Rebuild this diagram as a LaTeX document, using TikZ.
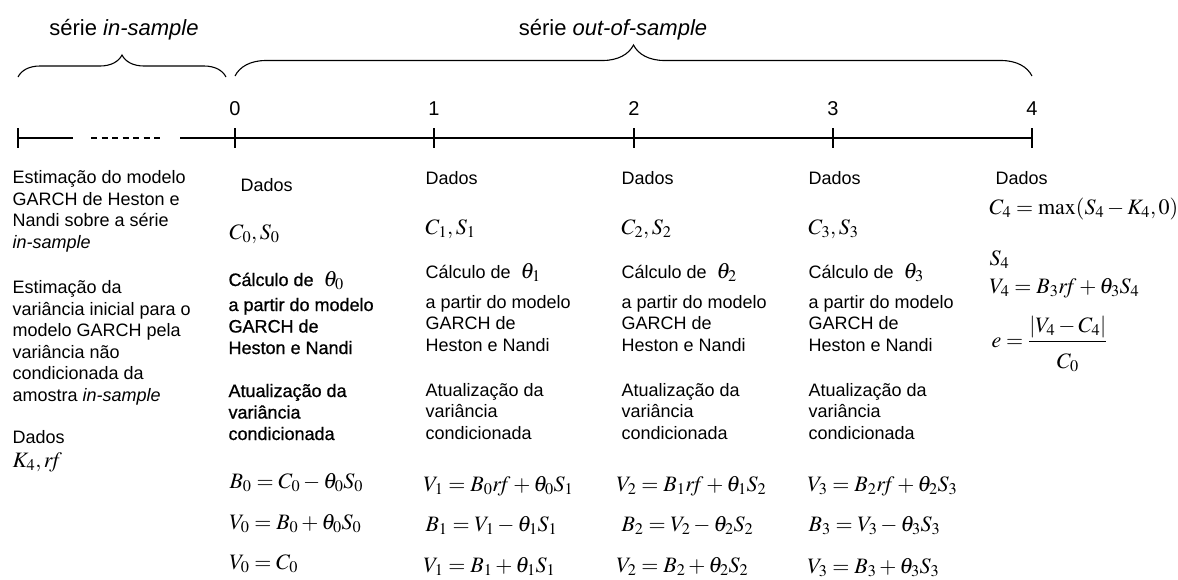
\documentclass[tikz,border=0pt]{standalone}
\usepackage{mathptmx}
\usepackage[no-math]{fontspec}
\setmainfont{Liberation Sans}
\newfontfamily\heavysf[FakeBold=0.8]{Liberation Sans}
\usetikzlibrary{decorations.pathreplacing}
\newcommand{\eqf}{\fontsize{22}{26}\selectfont}
\newcommand{\rfree}{r\mkern-3mu f}
\tikzset{
  txt/.style={anchor=base west,inner sep=0pt,align=left,font=\fontsize{18}{21.5}\selectfont},
  txtb/.style={txt,font=\fontsize{18}{21.5}\heavysf},
  eqn/.style={anchor=base west,inner sep=0pt,font=\eqf},
  num/.style={anchor=base,inner sep=0pt,font=\fontsize{20}{24}\selectfont},
  tit/.style={anchor=base,inner sep=0pt,font=\fontsize{22}{26}\selectfont},
  brc/.style={decorate,decoration={brace,amplitude=#1}},
}
\begin{document}
\begin{tikzpicture}[x=1pt,y=-1pt,line width=1.1pt]
  \useasboundingbox (0,0) rectangle (1178,579);
  % eixo do tempo
  \coordinate (ini) at (18,138);
  \coordinate (a1) at (73,138);
  \coordinate (d1) at (91,138);
  \coordinate (d2) at (163,138);
  \coordinate (a2) at (180,138);
  \coordinate (t0) at (235,138);
  \coordinate (t1) at (434,138);
  \coordinate (t2) at (634,138);
  \coordinate (t3) at (833,138);
  \coordinate (t4) at (1032,138);
  \draw (ini)--(a1);
  \draw[dash pattern=on 6pt off 4.5pt] (d1)--(d2);
  \draw (a2)--(t4);
  \foreach \t in {ini,t0,t1,t2,t3,t4} \draw (\t) ++(0,-10)--++(0,20);
  \node[num] (n0) at (235,115) {0};
  \node[num] (n1) at (434,115) {1};
  \node[num] (n2) at (634,115) {2};
  \node[num] (n3) at (833,115) {3};
  \node[num] (n4) at (1032,115) {4};
  % chaves
  \coordinate (b1) at (18,77);
  \coordinate (b2) at (226,77);
  \coordinate (b3) at (235,76);
  \coordinate (b4) at (1032,76);
  \draw[brc=22] (b1)--(b2);
  \draw[brc=31] (b3)--(b4);
  \node[tit] (ins) at (124,35) {série \textit{in-sample}};
  \node[tit] (outs) at (613,35) {série \textit{out-of-sample}};
  % coluna in-sample (y = base da ultima linha)
  \node[txt] (est1) at (12,248) {Estimação do modelo\\GARCH de Heston e\\Nandi sobre a série\\\textit{in-sample}};
  \node[txt] (est2) at (12,401) {Estimação da\\variância inicial para o\\modelo GARCH pela\\variância não\\condicionada da\\amostra \textit{in-sample}};
  \node[txt] (dl) at (12,443) {Dados};
  \node[eqn] (kl) at (12,467) {$K_4, \rfree$};
  % t = 0
  \node[txt] (d0) at (240,191) {Dados};
  \node[eqn] (cs0) at (229,239) {$C_0, S_0$};
  \node[txtb] (calc0) at (228,286) {Cálculo de \ {\eqf$\theta_0$}};
  \node[txtb] (gar0) at (228,354) {a partir do modelo\\GARCH de\\Heston e Nandi};
  \node[txtb] (atu0) at (228,440) {Atualização da\\variância\\condicionada};
  \node[eqn] (e0a) at (229,488) {$B_0 = C_0 - \theta_0 S_0$};
  \node[eqn] (e0b) at (229,529) {$V_0 = B_0 + \theta_0 S_0$};
  \node[eqn] (e0c) at (229,569) {$V_0 = C_0$};
  % t = 1
  \node[txt] (d1) at (425,184) {Dados};
  \node[eqn] (cs1) at (425,234) {$C_1, S_1$};
  \node[txt] (calc1) at (425,278) {Cálculo de \ {\eqf$\theta_1$}};
  \node[txt] (gar1) at (425,351) {a partir do modelo\\GARCH de\\Heston e Nandi};
  \node[txt] (atu1) at (425,439) {Atualização da\\variância\\condicionada};
  \node[eqn] (e1a) at (423,491) {$V_1 = B_0 \rfree + \theta_0 S_1$};
  \node[eqn] (e1b) at (425,531) {$B_1 = V_1 - \theta_1 S_1$};
  \node[eqn] (e1c) at (423,572) {$V_1 = B_1 + \theta_1 S_1$};
  % t = 2
  \node[txt] (d2) at (621,184) {Dados};
  \node[eqn] (cs2) at (621,234) {$C_2, S_2$};
  \node[txt] (calc2) at (621,278) {Cálculo de \ {\eqf$\theta_2$}};
  \node[txt] (gar2) at (621,351) {a partir do modelo\\GARCH de\\Heston e Nandi};
  \node[txt] (atu2) at (621,439) {Atualização da\\variância\\condicionada};
  \node[eqn] (e2a) at (616,491) {$V_2 = B_1 \rfree + \theta_1 S_2$};
  \node[eqn] (e2b) at (621,531) {$B_2 = V_2 - \theta_2 S_2$};
  \node[eqn] (e2c) at (616,572) {$V_2 = B_2 + \theta_2 S_2$};
  % t = 3
  \node[txt] (d3) at (808,184) {Dados};
  \node[eqn] (cs3) at (808,234) {$C_3, S_3$};
  \node[txt] (calc3) at (808,278) {Cálculo de \ {\eqf$\theta_3$}};
  \node[txt] (gar3) at (808,351) {a partir do modelo\\GARCH de\\Heston e Nandi};
  \node[txt] (atu3) at (808,439) {Atualização da\\variância\\condicionada};
  \node[eqn] (e3a) at (807,491) {$V_3 = B_2 \rfree + \theta_2 S_3$};
  \node[eqn] (e3b) at (808,531) {$B_3 = V_3 - \theta_3 S_3$};
  \node[eqn] (e3c) at (807,573) {$V_3 = B_3 + \theta_3 S_3$};
  % t = 4
  \node[txt] (d4) at (995,184) {Dados};
  \node[eqn] (c4) at (989,214) {$C_4 = \max(S_4 - K_4, 0)$};
  \node[eqn] (s4) at (989,265) {$S_4$};
  \node[eqn] (v4) at (989,293) {$V_4 = B_3 \rfree + \theta_3 S_4$};
  \node[eqn] (err) at (991,347) {$\displaystyle e = \frac{\left|V_4 - C_4\right|}{\rule{0pt}{24pt}C_0}$};
\end{tikzpicture}
\end{document}
